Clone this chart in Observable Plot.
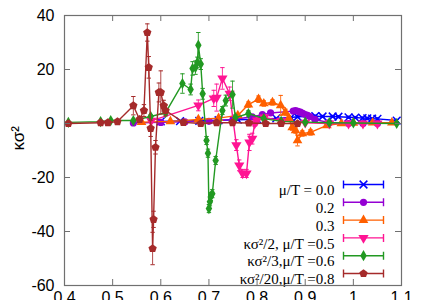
<!DOCTYPE html>
<html><head><meta charset="utf-8">
<script src="https://cdn.jsdelivr.net/npm/d3@7"></script>
<script src="https://cdn.jsdelivr.net/npm/@observablehq/plot@0.6"></script>
<style>html,body{margin:0;padding:0;background:#fff;overflow:hidden}</style>
</head><body><div id="chart"></div>
<script>
// ---- tick labels ----
const xTicks = [0.4, 0.5, 0.6, 0.7, 0.8, 0.9, 1.0, 1.1];
const yTicks = [-60, -40, -20, 0, 20, 40];
const yLabel = "κσ²";
const legendLabels = ["μ/T = 0.0", "0.2", "0.3", "κσ²/2, μ/T =0.5", "κσ²/3,μ/T =0.6", "κσ²/20,μ/T =0.8"];

// ---- series: mu/T = 0.0 ----
const s0x = [0.60, 0.64, 0.68, 0.72, 0.76, 0.80, 0.84, 0.87, 0.884, 0.921, 0.936, 0.957, 0.969, 0.99, 1.004, 1.019, 1.029, 1.039, 1.05, 1.09];
const s0y = [0.8, 0.9, 1.0, 1.2, 1.4, 1.6, 1.9, 2.2, 2.5, 2.7, 2.6, 2.6, 2.5, 2.3, 2.2, 2.0, 1.9, 1.8, 1.7, 1.1];
const s0e = [0.2, 0.2, 0.2, 0.2, 0.2, 0.3, 0.3, 0.3, 0.4, 0.4, 0.4, 0.4, 0.4, 0.4, 0.4, 0.4, 0.4, 0.4, 0.4, 0.4];
// ---- mu/T = 0.2 ----
const s1x = [0.543, 0.60, 0.65, 0.70, 0.75, 0.79, 0.811, 0.828, 0.875, 0.88, 0.885, 0.89, 0.895, 0.90, 0.905, 0.91, 0.92, 0.95, 0.99, 1.02, 1.05];
const s1y = [0.2, 0.4, 0.6, 0.8, 1.5, 2.5, 3.3, 3.9, 4.6, 4.8, 4.5, 4.2, 3.8, 3.3, 3.0, 2.6, 1.5, 0.3, 0.0, 0.0, 0.0];
const s1e = [0.2, 0.2, 0.2, 0.3, 0.3, 0.4, 0.5, 0.5, 0.6, 0.6, 0.6, 0.6, 0.5, 0.5, 0.5, 0.5, 0.4, 0.3, 0.3, 0.3, 0.3];
// ---- mu/T = 0.3 ----
const s2x = [0.56, 0.62, 0.678, 0.72, 0.76, 0.782, 0.803, 0.814, 0.832, 0.849, 0.859, 0.866, 0.873, 0.88, 0.884, 0.894, 0.911, 0.945, 0.975, 1.0, 1.04, 1.08];
const s2y = [0.5, 0.8, 1.5, 2.0, 3.0, 7.0, 9.0, 7.4, 7.8, 6.7, 4.1, 2.0, -1.5, -2.6, -6.3, -3.7, -3.3, -0.7, 0.0, 0.2, 0.3, 0.3];
const s2e = [0.3, 0.3, 0.5, 0.5, 0.6, 1.0, 1.2, 1.0, 1.0, 3.7, 1.2, 1.0, 1.0, 1.0, 2.0, 1.0, 1.0, 0.6, 0.5, 0.4, 0.4, 0.4];
// ---- kappa sigma^2 / 2, mu/T = 0.5 ----
const s3x = [0.58, 0.678, 0.71, 0.716, 0.728, 0.743, 0.757, 0.763, 0.77, 0.778, 0.784, 0.79, 0.795, 0.80, 0.815, 0.85, 0.90, 0.95, 0.99, 1.02, 1.05];
const s3y = [1.0, 6.7, 9.3, 9.6, 16.7, 11.0, -8.0, -15.5, -18.5, -18.5, -7.0, -5.6, 0.0, 1.1, 2.2, 1.0, 0.3, 0.0, 0.0, 0.0, 0.0];
const s3e = [0.5, 2.0, 3.0, 5.0, 4.0, 2.5, 2.0, 2.0, 1.5, 1.5, 3.0, 2.0, 1.0, 1.0, 1.0, 0.5, 0.4, 0.3, 0.3, 0.3, 0.3];
// ---- kappa sigma^2 / 3, mu/T = 0.6 ----
const s4x = [0.408, 0.475, 0.496, 0.543, 0.579, 0.61, 0.645, 0.662, 0.666, 0.672, 0.676, 0.678, 0.683, 0.687, 0.695, 0.698, 0.700, 0.702, 0.704, 0.707, 0.714, 0.728, 0.735, 0.749, 0.755, 0.782, 0.814, 0.85, 0.90, 0.95, 1.0, 1.09];
const s4y = [0.4, 0.7, 1.1, 1.1, 2.6, 4.0, 14.8, 12.6, 20.4, 20.7, 22.6, 29.0, 22.0, 11.0, -6.3, -11.0, -31.5, -29.0, -27.0, -26.0, -13.7, 4.8, 8.5, 10.7, 2.2, 3.7, 1.8, 0.8, 0.5, 0.3, 0.2, 0.0];
const s4e = [0.3, 0.3, 0.4, 0.4, 0.6, 0.8, 3.6, 2.0, 2.5, 2.5, 2.0, 4.7, 2.0, 2.0, 1.5, 1.5, 1.5, 1.5, 1.5, 1.5, 1.5, 1.5, 2.0, 5.0, 1.0, 1.0, 0.8, 0.5, 0.4, 0.3, 0.3, 0.3];
// ---- kappa sigma^2 / 20, mu/T = 0.8 ----
const s5x = [0.408, 0.475, 0.49, 0.51, 0.543, 0.556, 0.565, 0.572, 0.575, 0.579, 0.583, 0.585, 0.589, 0.596, 0.600, 0.606, 0.610, 0.647, 0.683, 0.716, 0.749, 0.783, 0.818, 0.85, 0.884];
const s5y = [0.0, 0.3, 0.3, 0.7, 6.6, 1.5, 4.8, 33.7, 20.8, -1.8, -46.3, -35.5, -8.8, 11.5, 11.5, 6.6, 4.8, 0.4, 0.0, 0.3, 0.3, 0.2, 0.0, 0.0, 0.0];
const s5e = [0.3, 0.3, 0.3, 0.4, 3.4, 1.0, 2.2, 3.2, 4.0, 3.0, 6.0, 3.0, 2.5, 3.5, 8.0, 2.0, 2.0, 0.5, 0.5, 0.5, 0.5, 0.5, 0.5, 0.5, 0.5];

// ---- symbols ----
const capSym = {draw(ctx, size) { const r = Math.sqrt(size / Math.PI); ctx.moveTo(-r, 0); ctx.lineTo(r, 0); }};
const pentagon = {draw(ctx, size) {
  const R = Math.sqrt(size / Math.PI) * 1.15;
  for (let i = 0; i < 5; i++) { const a = -Math.PI / 2 + i * 2 * Math.PI / 5; const px = R * Math.cos(a), py = R * Math.sin(a); if (i) ctx.lineTo(px, py); else ctx.moveTo(px, py); }
  ctx.closePath();
}};
const legendSample = {draw(ctx) { ctx.moveTo(-20, 0); ctx.lineTo(20, 0); ctx.moveTo(-20, -4); ctx.lineTo(-20, 4); ctx.moveTo(20, -4); ctx.lineTo(20, 4); }};

const styles = [
  {color: "#0000ff", symbol: "times", r: 3.6, stroked: true, rotate: 0},
  {color: "#9400d3", symbol: "circle", r: 3.6, stroked: false, rotate: 0},
  {color: "#ff5f00", symbol: "triangle", r: 3.6, stroked: false, rotate: 0},
  {color: "#ff1493", symbol: "triangle", r: 3.8, stroked: false, rotate: 180},
  {color: "#229922", symbol: "diamond", r: 3.4, stroked: false, rotate: 0},
  {color: "#a52a2a", symbol: pentagon, r: 3.8, stroked: false, rotate: 0}
];
const raw = [[s0x, s0y, s0e], [s1x, s1y, s1e], [s2x, s2y, s2e], [s3x, s3y, s3e], [s4x, s4y, s4e], [s5x, s5y, s5e]];
const series = raw.map(([xs, ys, es]) => xs.map((x, i) => ({x, y: ys[i], e: es[i]})));

const W = 428, H = 300, mL = 64, mR = 27, mT = 15, mB = 15;
const fw = W - mL - mR, fh = H - mT - mB;
const tickLen = 6;
const axisColor = "#707070";

const marks = [];
series.forEach((rows, k) => {
  const st = styles[k];
  marks.push(Plot.ruleX(rows, {x: "x", y1: d => d.y - d.e, y2: d => d.y + d.e, stroke: st.color, strokeWidth: 1, strokeOpacity: 0.85}));
  marks.push(Plot.dot(rows, {x: "x", y: d => d.y - d.e, symbol: capSym, r: 2.2, stroke: st.color, strokeWidth: 1, fill: "none"}));
  marks.push(Plot.dot(rows, {x: "x", y: d => d.y + d.e, symbol: capSym, r: 2.2, stroke: st.color, strokeWidth: 1, fill: "none"}));
  marks.push(Plot.line(rows, {x: "x", y: "y", stroke: st.color, strokeWidth: 1.4}));
  marks.push(Plot.dot(rows, st.stroked
    ? {x: "x", y: "y", symbol: st.symbol, r: st.r, stroke: st.color, strokeWidth: 1.5, fill: "none"}
    : {x: "x", y: "y", symbol: st.symbol, r: st.r, fill: st.color, stroke: "none", rotate: st.rotate}));
});

// legend
const legTop = 184 - mT, legStep = 17.8, legTextRight = 334 - mL, legSample = 363 - mL;
legendLabels.forEach((lab, k) => {
  const st = styles[k];
  const dy = legTop + k * legStep;
  marks.push(Plot.text([lab], {frameAnchor: "top-left", dx: legTextRight, dy, text: d => d, textAnchor: "end", fontFamily: "Liberation Serif, Times New Roman, serif", fontSize: 15, fill: "#000"}));
  marks.push(Plot.dot([0], {frameAnchor: "top-left", dx: legSample, dy, symbol: legendSample, r: 3, stroke: st.color, strokeWidth: 1.4, fill: "none"}));
  marks.push(Plot.dot([0], st.stroked
    ? {frameAnchor: "top-left", dx: legSample, dy, symbol: st.symbol, r: st.r, stroke: st.color, strokeWidth: 1.5, fill: "none"}
    : {frameAnchor: "top-left", dx: legSample, dy, symbol: st.symbol, r: st.r, fill: st.color, stroke: "none", rotate: st.rotate}));
});

// inward ticks on all four sides
marks.push(Plot.tickX(xTicks, {x: d => d, insetTop: fh - tickLen, stroke: axisColor}));
marks.push(Plot.tickX(xTicks, {x: d => d, insetBottom: fh - tickLen, stroke: axisColor}));
marks.push(Plot.tickY(yTicks, {y: d => d, insetRight: fw - tickLen, stroke: axisColor}));
marks.push(Plot.tickY(yTicks, {y: d => d, insetLeft: fw - tickLen, stroke: axisColor}));
marks.push(Plot.frame({stroke: axisColor, strokeWidth: 1.2}));
marks.push(Plot.axisX(xTicks, {tickSize: 0, tickPadding: 6, tickFormat: d => String(d), fontSize: 16, label: null}));
marks.push(Plot.axisY(yTicks, {tickSize: 0, tickPadding: 10, tickFormat: d => String(d), fontSize: 16, label: null}));
marks.push(Plot.text([yLabel], {frameAnchor: "left", dx: -46, rotate: -90, text: d => d, fontSize: 17, fill: "#000"}));

const chart = Plot.plot({
  width: W, height: H,
  marginLeft: mL, marginRight: mR, marginTop: mT, marginBottom: mB,
  style: {fontFamily: "Liberation Sans, Arial, sans-serif", background: "#fff", color: "#000", overflow: "hidden"},
  x: {domain: [0.4, 1.1], axis: null},
  y: {domain: [-60, 40], axis: null},
  marks
});
document.getElementById("chart").appendChild(chart);
</script>
</body></html>
